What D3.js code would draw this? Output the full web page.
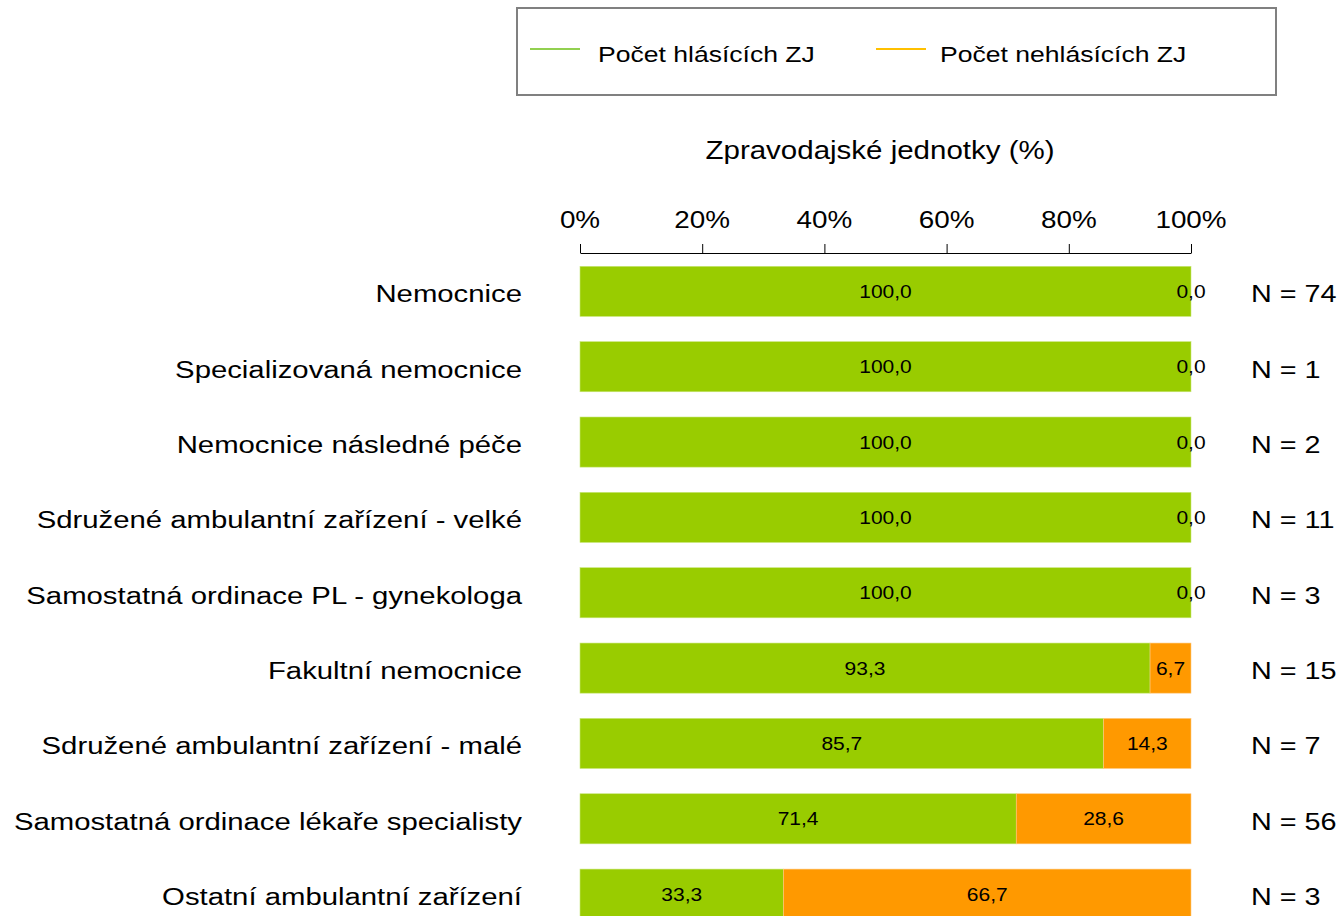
<!DOCTYPE html>
<html><head><meta charset="utf-8">
<script src="https://cdn.jsdelivr.net/npm/d3@7"></script>
<style>body{margin:0;background:#fff;font-family:Arial,"Liberation Sans",sans-serif;}</style>
</head><body><svg id="c" width="1342" height="916"></svg>
<script>
const categories = ["Nemocnice","Specializovaná nemocnice","Nemocnice následné péče","Sdružené ambulantní zařízení - velké","Samostatná ordinace PL - gynekologa","Fakultní nemocnice","Sdružené ambulantní zařízení - malé","Samostatná ordinace lékaře specialisty","Ostatní ambulantní zařízení"];
const reporting = [100.0,100.0,100.0,100.0,100.0,93.3,85.7,71.4,33.3];
const nonReporting = [0.0,0.0,0.0,0.0,0.0,6.7,14.3,28.6,66.7];
const nCounts = [74,1,2,11,3,15,7,56,3];
const tickValues = [0,20,40,60,80,100];
const seriesNames = ["Počet hlásících ZJ","Počet nehlásících ZJ"];

const svg = d3.select("#c");
const font = "Arial, 'Liberation Sans', sans-serif";
const SX = 1.18;
function txt(parent, x, y, s, size, anchor){
  return parent.append("text").attr("transform",`translate(${x},${y}) scale(${SX},1)`)
    .attr("text-anchor",anchor||"start").attr("font-family",font).attr("font-size",size).attr("fill","#000").text(s);
}
const x = d3.scaleLinear().domain([0,100]).range([580,1191]);
const y = d3.scaleBand().domain(categories).range([253.5, 932]).paddingInner(0.335).paddingOuter(0.17);

// legend
svg.append("rect").attr("x",517).attr("y",8).attr("width",759).attr("height",87)
  .attr("fill","#fff").attr("stroke","#808080").attr("stroke-width",2);
const legendColors = ["#92D050","#FFC000"];
const legendX = [530,876];
seriesNames.forEach((s,i)=>{
  svg.append("line").attr("x1",legendX[i]).attr("x2",legendX[i]+50).attr("y1",49).attr("y2",49)
    .attr("stroke",legendColors[i]).attr("stroke-width",2);
  txt(svg, legendX[i]+(i===0?68:64), 62, s, 22.5);
});

// title
txt(svg, 880, 159, "Zpravodajské jednotky (%)", 25, "middle");

// axis
const axis = svg.append("g").attr("transform","translate(0,253)")
  .call(d3.axisTop(x).tickValues(tickValues).tickFormat("").tickSize(9).tickSizeOuter(0));
axis.select(".domain").attr("stroke","#000");
axis.selectAll(".tick line").attr("stroke","#000");
tickValues.forEach(v=>txt(svg, x(v), 228, v+"%", 23.6, "middle"));

const colors = ["#99CC00","#FF9900"];
const rows = categories.map((c,i)=>({c, a:reporting[i], b:nonReporting[i], n:nCounts[i]}));
const g = svg.append("g");
const fmt = v=>v.toFixed(1).replace(".",",");
rows.forEach(r=>{
  const yy = y(r.c), h = y.bandwidth(), cy = yy+h/2;
  g.append("rect").attr("x",x(0)).attr("y",yy).attr("width",x(r.a)-x(0)).attr("height",h).attr("fill",colors[0]).attr("stroke","#c8e67a").attr("stroke-width",0.6);
  g.append("rect").attr("x",x(r.a)).attr("y",yy).attr("width",x(r.a+r.b)-x(r.a)).attr("height",h).attr("fill",colors[1]).attr("stroke","#ffc880").attr("stroke-width",r.b>0?0.6:0);
  txt(g, (x(0)+x(r.a))/2, cy+6.5, fmt(r.a), 17.8, "middle");
  txt(g, (x(r.a)+x(r.a+r.b))/2, cy+6.5, fmt(r.b), 17.8, "middle");
  txt(g, 522, cy+11, r.c, 24.85, "end");
  txt(g, 1251, cy+11, "N = "+r.n, 24.4);
});
</script></body></html>
